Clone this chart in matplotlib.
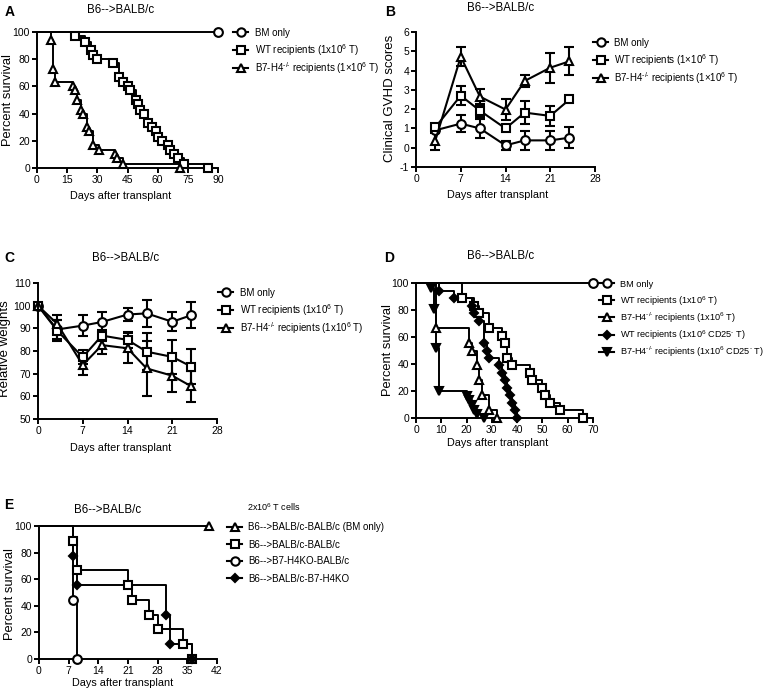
import matplotlib
matplotlib.use("Agg")
import matplotlib.pyplot as plt
from matplotlib.lines import Line2D

plt.rcParams["font.family"] = ["Liberation Sans", "DejaVu Sans"]
plt.rcParams["mathtext.fontset"] = "custom"
plt.rcParams["mathtext.rm"] = "Liberation Sans"
plt.rcParams["mathtext.it"] = "Liberation Sans:italic"
plt.rcParams["axes.unicode_minus"] = False

W, H = 768, 690

# ---- panel A: survival, 1x10^6 T ----
a_bm_t = [0, 90]
a_bm_s = [100, 100]
a_wt_t = [0, 19, 24, 27, 28, 30, 38, 41, 43, 45, 46, 49, 50, 51, 53, 55, 57, 59, 60, 62, 65, 66, 68, 70, 73, 85]
a_wt_s = [100, 97, 93, 87, 83, 80, 77, 67, 63, 60, 57, 50, 47, 43, 40, 33, 30, 27, 23, 20, 17, 13, 10, 7, 3, 0]
a_ko_t = [0, 7, 8, 9, 18, 19, 20, 22, 23, 25, 26, 28, 31, 39, 40, 43, 71]
a_ko_s = [100, 94, 73, 63, 60, 57, 50, 43, 40, 30, 27, 17, 13, 10, 7, 3, 0]

# ---- panel B: clinical GVHD scores ----
b_days = [3, 7, 10, 14, 17, 21, 24]
b_bm = [0.9, 1.25, 1.0, 0.12, 0.38, 0.38, 0.52]
b_bm_err = [0.15, 0.45, 0.5, 0.25, 0.5, 0.5, 0.55]
b_wt = [1.05, 2.7, 1.92, 1.0, 1.82, 1.65, 2.5]
b_wt_err = [0.1, 0.5, 0.35, 0.1, 0.6, 0.5, 0.15]
b_ko = [0.35, 4.72, 2.65, 1.98, 3.46, 4.15, 4.48]
b_ko_err = [0.45, 0.5, 0.42, 0.55, 0.3, 0.78, 0.72]

# ---- panel C: relative weights ----
c_days = [0, 3, 7, 10, 14, 17, 21, 24]
c_bm = [100, 89.5, 91.2, 92.8, 96.1, 96.6, 92.9, 95.8]
c_bm_err = [0, 4, 4.5, 4.2, 3, 6, 4.2, 5.7]
c_wt = [100, 89, 77.3, 86.8, 84.9, 79.7, 77.4, 73.1]
c_wt_err = [0, 4.5, 3.2, 2.5, 3.5, 8.2, 7.6, 7.6]
c_ko = [100, 92, 73.8, 82.6, 81.2, 72.3, 69.1, 64.4]
c_ko_err = [0, 4, 4.5, 4, 6.6, 12, 7, 6.8]

# ---- panel D: survival incl. CD25- T ----
d_bm_t = [0, 70]
d_bm_s = [100, 100]
d_wt_t = [0, 18, 23, 25, 29, 34, 35, 36, 38, 45, 46, 50, 51, 53, 57, 66]
d_wt_s = [100, 88.9, 83.3, 77.8, 66.7, 61.1, 55.6, 44.4, 38.9, 33.3, 27.8, 22.2, 16.7, 11.1, 5.6, 0]
d_ko_t = [0, 8, 21, 22, 24, 25, 26, 29, 32]
d_ko_s = [100, 66.7, 55.6, 50, 38.9, 27.8, 16.7, 5.6, 0]
d_wt25_t = [0, 9, 15, 22, 23, 25, 27, 28, 29, 33, 34, 35, 36, 37, 38, 39, 40]
d_wt25_s = [100, 94.4, 88.9, 83.3, 77.8, 72.2, 55.6, 50, 44.4, 38.9, 33.3, 27.8, 22.2, 16.7, 11.1, 5.6, 0]
d_ko25_t = [0, 6, 7, 8, 9, 20, 21, 22, 23, 24, 27]
d_ko25_s = [100, 96, 81, 52, 20, 16, 13, 10, 6, 3, 0]

# ---- panel E: 2x10^6 T cells ----
e_bm_t = [0, 40]
e_bm_s = [100, 100]
e_wt_t = [0, 8, 9, 21, 22, 26, 28, 34, 36]
e_wt_s = [100, 88.9, 66.7, 55.6, 44.4, 33.3, 22.2, 11.1, 0]
e_hko_t = [0, 8, 9]
e_hko_s = [100, 44.4, 0]
e_rko_t = [0, 8, 9, 30, 31, 36]
e_rko_s = [100, 77.8, 55.6, 33.3, 11.1, 0]

KO = "B7-H4$^{‐/‐}$"

fig = plt.figure(figsize=(W / 100, H / 100), dpi=100)


def box(l, t, r, b):
    return fig.add_axes([l / W, 1 - b / H, (r - l) / W, (b - t) / H])


def txt(x, y, s, **kw):
    fig.text(x / W, 1 - y / H, s, **kw)


def style(ax, xlim, xticks, ylim, yticks):
    ax.set_xlim(xlim)
    ax.set_ylim(ylim)
    ax.set_xticks(xticks)
    ax.set_yticks(yticks)
    for s in ["top", "right"]:
        ax.spines[s].set_visible(False)
    for s in ["left", "bottom"]:
        ax.spines[s].set_linewidth(1.4)
    ax.tick_params(direction="out", length=3.5, width=1.4, labelsize=7.5, pad=1.5)


def km(ax, t, s, marker, filled=False, ms=6.3):
    ax.step(t, s, where="post", color="k", lw=1.4, clip_on=False, zorder=2)
    ax.plot(t[1:], s[1:], ls="none", marker=marker, ms=ms,
            mfc="k" if filled else "white", mec="k", mew=1.5, clip_on=False, zorder=3)


def eb(ax, x, y, err, marker):
    ax.errorbar(x, y, yerr=err, color="k", lw=1.5, marker=marker, ms=6.3, mfc="white",
                mec="k", mew=1.5, capsize=3.5, capthick=1.6, elinewidth=1.5, clip_on=False)


def legend(specs, hx, tx, y0, dy, fs=7):
    for i, (m, f, ms, lab) in enumerate(specs):
        y = 1 - (y0 + i * dy) / H
        fig.add_artist(Line2D([hx / W, (hx + 15) / W], [y, y], transform=fig.transFigure,
                              color="k", lw=1.5))
        fig.add_artist(Line2D([(hx + 7.5) / W], [y], transform=fig.transFigure, ls="none",
                              marker=m, ms=ms, mfc="k" if f else "white", mec="k", mew=1.5))
        fig.text(tx / W, y - 3.5 / H, lab, fontsize=fs, va="baseline")


# A
ax = box(37, 32, 218, 168)
km(ax, a_bm_t, a_bm_s, "o")
km(ax, a_wt_t, a_wt_s, "s")
km(ax, a_ko_t, a_ko_s, "^")
style(ax, (0, 90), range(0, 91, 15), (0, 100), range(0, 101, 20))
txt(5, 12, "A", fontsize=10, fontweight="bold", va="center")
txt(121, 10, "B6-->BALB/c", fontsize=8.3, ha="center", va="center")
txt(8, 100, "Percent survival", fontsize=9.3, rotation=90, ha="center", va="center")
txt(121, 196, "Days after transplant", fontsize=7.8, ha="center", va="center")
legend([("o", False, 6, "BM only"),
        ("s", False, 6, r"WT recipients (1x10$^6$ T)"),
        ("^", False, 6, KO + r" recipients (1×10$^6$ T)")], 233, 255, 32, 18)

# B
ax = box(416, 32, 595, 167)
eb(ax, b_days, b_bm, b_bm_err, "o")
eb(ax, b_days, b_wt, b_wt_err, "s")
eb(ax, b_days, b_ko, b_ko_err, "^")
style(ax, (0, 28), range(0, 29, 7), (-1, 6), range(-1, 7))
txt(385, 12, "B", fontsize=10, fontweight="bold", va="center")
txt(501, 8, "B6-->BALB/c", fontsize=8.3, ha="center", va="center")
txt(390, 98, "Clinical GVHD scores", fontsize=9.5, rotation=90, ha="center", va="center")
txt(498, 195, "Days after transplant", fontsize=7.8, ha="center", va="center")
legend([("o", False, 6, "BM only"),
        ("s", False, 6, r"WT recipients (1×10$^6$ T)"),
        ("^", False, 6, KO + r" recipients (1×10$^6$ T)")], 593, 614, 42, 18)

# C
ax = box(38, 283, 217, 419)
eb(ax, c_days, c_bm, c_bm_err, "o")
eb(ax, c_days, c_wt, c_wt_err, "s")
eb(ax, c_days, c_ko, c_ko_err, "^")
style(ax, (0, 28), range(0, 29, 7), (50, 110), range(50, 111, 10))
txt(4, 258, "C", fontsize=10, fontweight="bold", va="center")
txt(126, 258, "B6-->BALB/c", fontsize=8.3, ha="center", va="center")
txt(5, 349, "Relative weights", fontsize=9.5, rotation=90, ha="center", va="center")
txt(121, 448, "Days after transplant", fontsize=7.8, ha="center", va="center")
legend([("o", False, 6, "BM only"),
        ("s", False, 6, r"WT recipients (1x10$^6$ T)"),
        ("^", False, 6, KO + r" recipients (1x10$^6$ T)")], 218, 240, 292, 18)

# D
ax = box(416, 283, 593, 418)
km(ax, d_bm_t, d_bm_s, "o")
km(ax, d_wt_t, d_wt_s, "s")
km(ax, d_ko_t, d_ko_s, "^")
km(ax, d_wt25_t, d_wt25_s, "D", filled=True, ms=4.5)
km(ax, d_ko25_t, d_ko25_s, "v", filled=True, ms=5.5)
style(ax, (0, 70), range(0, 71, 10), (0, 100), range(0, 101, 20))
txt(384, 258, "D", fontsize=10, fontweight="bold", va="center")
txt(501, 256, "B6-->BALB/c", fontsize=8.3, ha="center", va="center")
txt(388, 350, "Percent survival", fontsize=9.3, rotation=90, ha="center", va="center")
txt(498, 443, "Days after transplant", fontsize=7.8, ha="center", va="center")
legend([("o", False, 6, "BM only"),
        ("s", False, 6, r"WT recipients (1x10$^6$ T)"),
        ("^", False, 6, KO + r" recipients (1x10$^6$ T)"),
        ("D", True, 4.5, r"WT recipients (1x10$^6$ CD25$^{‐}$ T)"),
        ("v", True, 5.5, KO + r" recipients (1x10$^6$ CD25$^{‐}$ T)")],
       599, 620, 283, 17.2, fs=6.6)

# E
ax = box(39, 526, 217, 659)
km(ax, e_bm_t, e_bm_s, "^")
km(ax, e_wt_t, e_wt_s, "s")
km(ax, e_hko_t, e_hko_s, "o")
km(ax, e_rko_t, e_rko_s, "D", filled=True, ms=4.5)
style(ax, (0, 42), range(0, 43, 7), (0, 100), range(0, 101, 20))
txt(4, 505, "E", fontsize=10, fontweight="bold", va="center")
txt(108, 510, "B6-->BALB/c", fontsize=8.3, ha="center", va="center")
txt(10, 594, "Percent survival", fontsize=9.3, rotation=90, ha="center", va="center")
txt(123, 683, "Days after transplant", fontsize=7.8, ha="center", va="center")
txt(247, 507, r"2x10$^6$ T cells", fontsize=6.5, va="center")
legend([("^", False, 6, "B6-->BALB/c-BALB/c (BM only)"),
        ("s", False, 6, "B6-->BALB/c-BALB/c"),
        ("o", False, 6, "B6-->B7-H4KO-BALB/c"),
        ("D", True, 4.5, "B6-->BALB/c-B7-H4KO")], 227, 248, 527, 17)

fig.savefig("out.png", dpi=100)
